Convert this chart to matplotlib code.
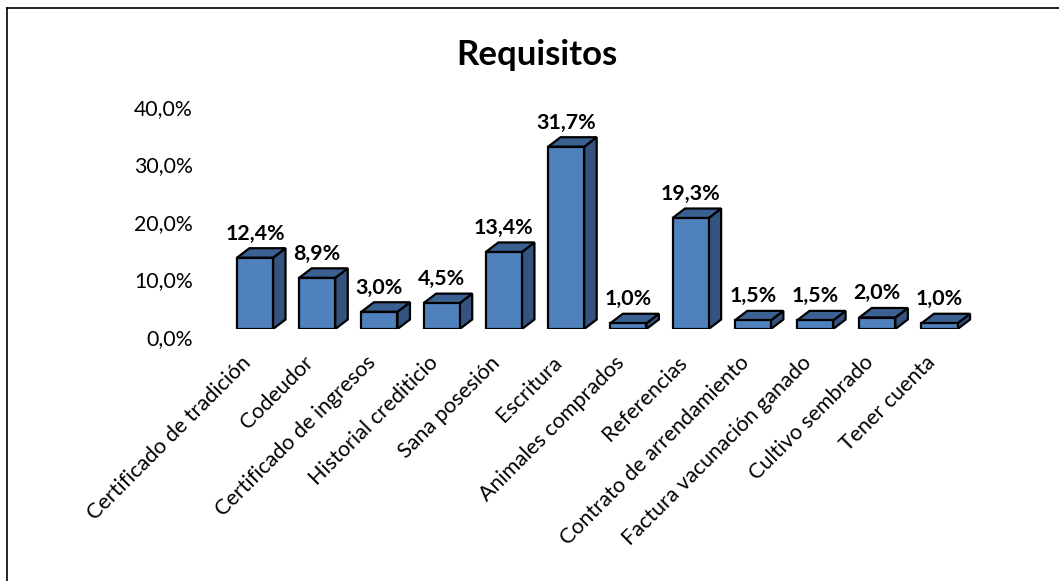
import matplotlib.pyplot as plt
import matplotlib.transforms as mtransforms
from matplotlib.patches import Polygon
from matplotlib.lines import Line2D

categorias = ["Certificado de tradición", "Codeudor", "Certificado de ingresos",
              "Historial crediticio", "Sana posesión", "Escritura", "Animales comprados",
              "Referencias", "Contrato de arrendamiento", "Factura vacunación ganado",
              "Cultivo sembrado", "Tener cuenta"]
valores = [12.4, 8.9, 3.0, 4.5, 13.4, 31.7, 1.0, 19.3, 1.5, 1.5, 2.0, 1.0]
ticks_y = [0, 10, 20, 30, 40]

plt.rcParams['font.family'] = ['Lato', 'DejaVu Sans']

W, H = 1059, 581
fig = plt.figure(figsize=(W / 100, H / 100), dpi=100)
fig.patch.set_facecolor('white')

# ejes colocados en pixeles: y=0 en 329px, y=40 en 99px
ax = fig.add_axes([205.2 / W, (H - 329) / H, 784.1 / W, 230 / H])
ax.set_xlim(-0.8, 11.8)
ax.set_ylim(0, 40)
for s in ax.spines.values():
    s.set_visible(False)
ax.patch.set_alpha(0)

ancho = 0.58
px_x = 784.1 / 12.6
px_y = 230 / 40
dx = 12.5 / px_x
dy = 9.5 / px_y

frente = '#4F81BD'
lado = '#34547F'
arriba = '#3B6192'

for i, v in enumerate(valores):
    x0 = i - ancho / 2
    x1 = i + ancho / 2
    ax.bar(i, v, width=ancho, color=frente, edgecolor='black', linewidth=1.6, zorder=3)
    ax.add_patch(Polygon([(x1, 0), (x1 + dx, dy), (x1 + dx, v + dy), (x1, v)],
                         closed=True, facecolor=lado, edgecolor='black', linewidth=1.6,
                         zorder=2))
    ax.add_patch(Polygon([(x0, v), (x1, v), (x1 + dx, v + dy), (x0 + dx, v + dy)],
                         closed=True, facecolor=arriba, edgecolor='black', linewidth=1.6,
                         zorder=2))
    ax.annotate(f"{v:.1f}%".replace('.', ','), (i, v), xytext=(0, 13),
                textcoords='offset points', ha='center', va='baseline',
                fontsize=15.4, fontweight='bold', color='black')

ax.set_xticks(range(len(categorias)))
ax.set_xticklabels(categorias, rotation=45, ha='right', va='center',
                   rotation_mode='anchor', fontsize=15.5)
ax.tick_params(axis='x', length=0, pad=22)
shift_x = mtransforms.ScaledTranslation(-7 / 100, 0, fig.dpi_scale_trans)
for lab in ax.get_xticklabels():
    lab.set_transform(lab.get_transform() + shift_x)

ax.set_yticks(ticks_y)
ax.set_yticklabels([f"{t:.1f}%".replace('.', ',') for t in ticks_y], fontsize=15.3)
ax.tick_params(axis='y', length=0, pad=9)
shift = mtransforms.ScaledTranslation(0, -8 / 100, fig.dpi_scale_trans)
for lab in ax.get_yticklabels():
    lab.set_transform(lab.get_transform() + shift)

fig.text(537 / W, 1 - 55 / H, "Requisitos", ha='center', va='center',
         fontsize=25, fontweight='bold')

# marco del grafico (solo se ven los bordes izquierdo y superior)
fig.add_artist(Line2D([7 / W, 7 / W], [0, 1 - 8 / H], color='black', linewidth=1.2))
fig.add_artist(Line2D([7 / W, 1], [1 - 8 / H, 1 - 8 / H], color='black', linewidth=1.2))

fig.savefig('out.png', dpi=100)
